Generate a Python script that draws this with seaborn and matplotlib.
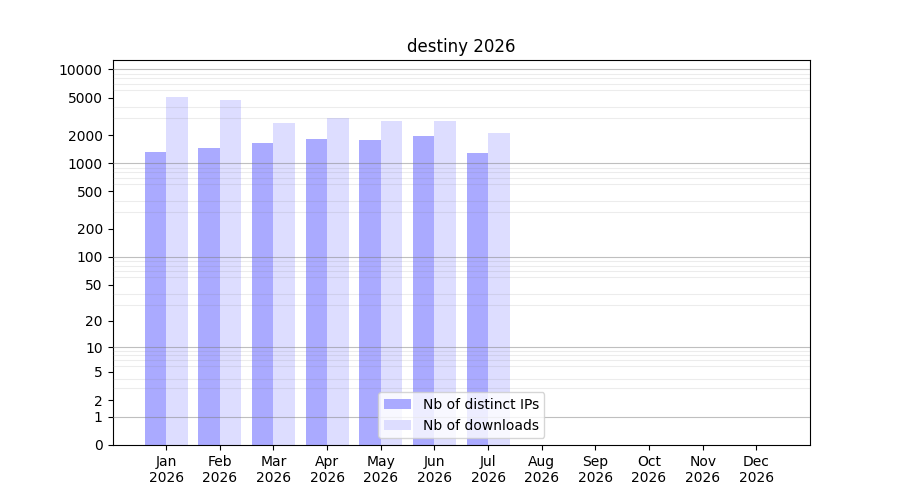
import numpy as np
import pandas as pd
import seaborn as sns
import matplotlib
matplotlib.use('Agg')
import matplotlib.pyplot as plt

months = ['Jan', 'Feb', 'Mar', 'Apr', 'May', 'Jun', 'Jul', 'Aug', 'Sep', 'Oct', 'Nov', 'Dec']
year = 2026
data_months = ['Jan', 'Feb', 'Mar', 'Apr', 'May', 'Jun', 'Jul']
distinct_ips = [1320, 1455, 1645, 1815, 1770, 1950, 1285]
downloads = [5080, 4720, 2690, 3035, 2820, 2820, 2100]
series_names = ['Nb of distinct IPs', 'Nb of downloads']
colors = ['#aaaaff', '#ddddff']
ytick_values = [0, 1, 2, 5, 10, 20, 50, 100, 200, 500, 1000, 2000, 5000, 10000]

df = pd.DataFrame({
    'month': data_months * 2,
    'value': distinct_ips + downloads,
    'series': [series_names[0]] * len(data_months) + [series_names[1]] * len(data_months),
})


def fwd(v):
    return np.log10(1 + np.maximum(v, 0))


def inv(v):
    return 10 ** v - 1


fig, ax = plt.subplots(figsize=(9, 5), dpi=100)
ax.set_yscale('function', functions=(fwd, inv))

sns.barplot(data=df, x='month', y='value', hue='series', order=months,
            palette=colors, saturation=1, width=0.8, ax=ax)

ax.set_xticks(range(len(months)))
ax.set_xticklabels([f'{m}\n{year}' for m in months])
ax.set_yticks(ytick_values)
ax.set_yticklabels([str(v) for v in ytick_values])

# light lines at every 2..9 step, darker at each decade
minor = [k * 10 ** n for n in range(4) for k in range(2, 10)]
ax.set_yticks(minor, minor=True)
ax.tick_params(axis='y', which='minor', length=0)
ax.set_axisbelow(False)
ax.grid(True, axis='y', which='minor', color='gray', alpha=0.15, linewidth=0.8)
for d in [1, 10, 100, 1000, 10000]:
    ax.axhline(d, color='gray', alpha=0.5, linewidth=0.8, zorder=3)

ax.set_xlim(-1, 12)
ax.set_ylim(0, inv(4.1))

ax.set_xlabel('')
ax.set_ylabel('')
ax.set_title(f'destiny {year}')
ax.legend(loc='lower center')

fig.savefig('out.png')
